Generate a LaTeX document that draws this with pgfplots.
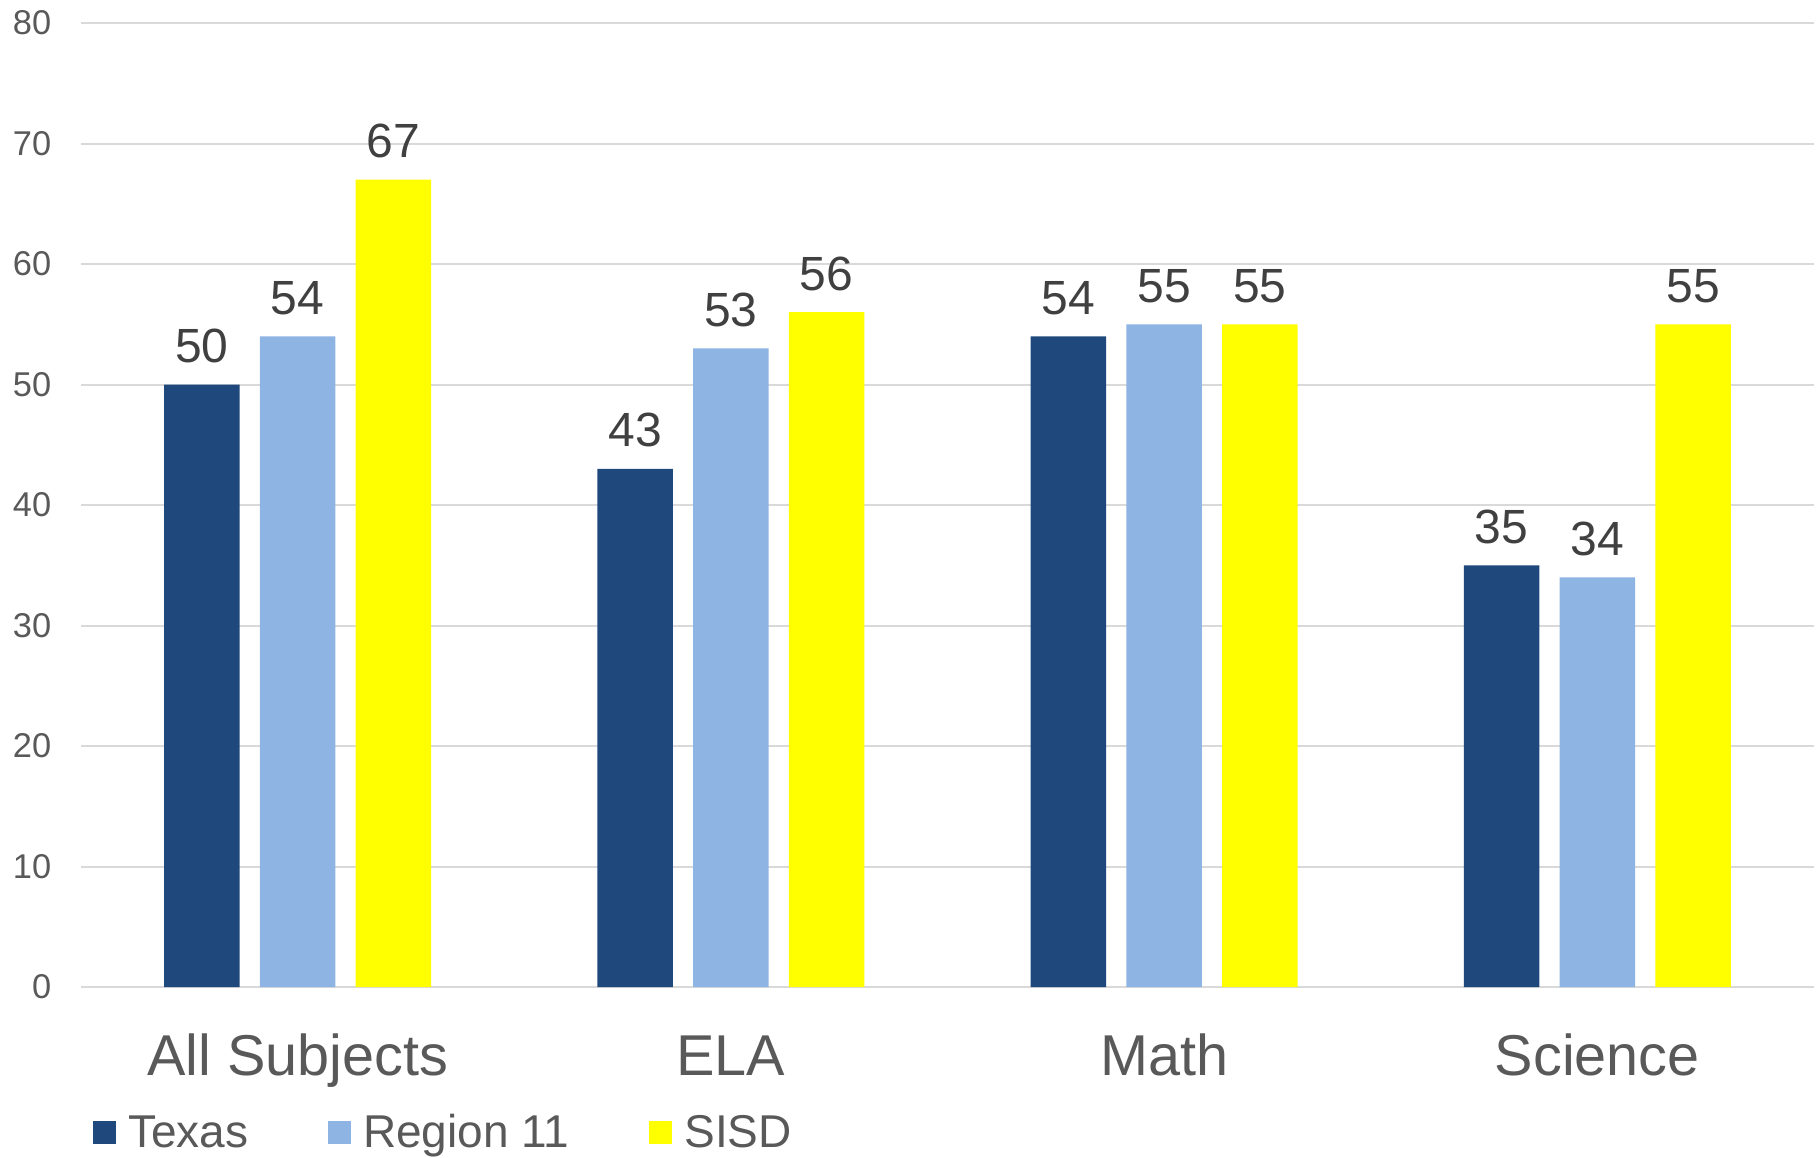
\documentclass[border=0pt]{standalone}
\usepackage{pgfplots}
\pgfplotsset{compat=1.18}
\usepackage{fontspec}
\setmainfont{Liberation Sans}
\definecolor{texas}{RGB}{31,73,125}
\definecolor{region}{RGB}{141,180,227}
\definecolor{sisd}{RGB}{255,255,0}
\definecolor{gridc}{RGB}{217,217,217}
\definecolor{lblc}{RGB}{89,89,89}
\definecolor{valc}{RGB}{64,64,64}
\begin{document}
\begin{tikzpicture}
\path[use as bounding box] (-20.25pt,-42.5pt) rectangle (434.75pt,246.75pt);
\begin{axis}[
  at={(0,0)}, anchor=south west,
  scale only axis, width=433.25pt, height=241pt,
  xmin=-0.5, xmax=3.5, ymin=0, ymax=80,
  ybar=5.1pt, bar width=18.85pt,
  xtick={0,1,2,3},
  xticklabels={All Subjects,ELA,Math,Science},
  ytick={0,10,...,80},
  axis line style={draw=none},
  tick style={draw=none},
  major tick length=0pt,
  ymajorgrids, grid style={gridc, line width=0.5pt},
  /pgf/number format/assume math mode=true,
  yticklabel style={anchor=east, inner sep=0pt, xshift=-7.25pt, text=lblc, font=\fontsize{8.6}{10}\selectfont},
  xticklabel style={anchor=base, inner sep=0pt, yshift=-22pt, text=lblc, font=\fontsize{14.4}{17}\selectfont},
  nodes near coords,
  every node near coord/.append style={anchor=base, inner sep=0pt, yshift=5.5pt, text=valc, font=\fontsize{12}{14}\selectfont},
  clip=false,
  legend columns=3,
  legend style={at={(0,0)}, anchor=south west, xshift=3pt, yshift=-40pt, draw=none, fill=none, inner sep=0pt, outer sep=0pt,
    font=\fontsize{11.5}{13}\selectfont, text=lblc,
    nodes={inner sep=0pt, text height=8pt, text depth=0pt},
    /tikz/every odd column/.append style={column sep=3pt},
    /tikz/every even column/.append style={column sep=20pt}},
]
\addplot[fill=texas, draw=none, legend image code/.code={\fill[texas] (0pt,-3.15pt) rectangle (5.75pt,2.6pt);}]
  coordinates {(0,50) (1,43) (2,54) (3,35)};
\addplot[fill=region, draw=none, legend image code/.code={\fill[region] (0pt,-3.15pt) rectangle (5.75pt,2.6pt);}]
  coordinates {(0,54) (1,53) (2,55) (3,34)};
\addplot[fill=sisd, draw=none, legend image code/.code={\fill[sisd] (0pt,-3.15pt) rectangle (5.75pt,2.6pt);}]
  coordinates {(0,67) (1,56) (2,55) (3,55)};
\legend{Texas, Region 11, SISD}
\end{axis}
\end{tikzpicture}
\end{document}
